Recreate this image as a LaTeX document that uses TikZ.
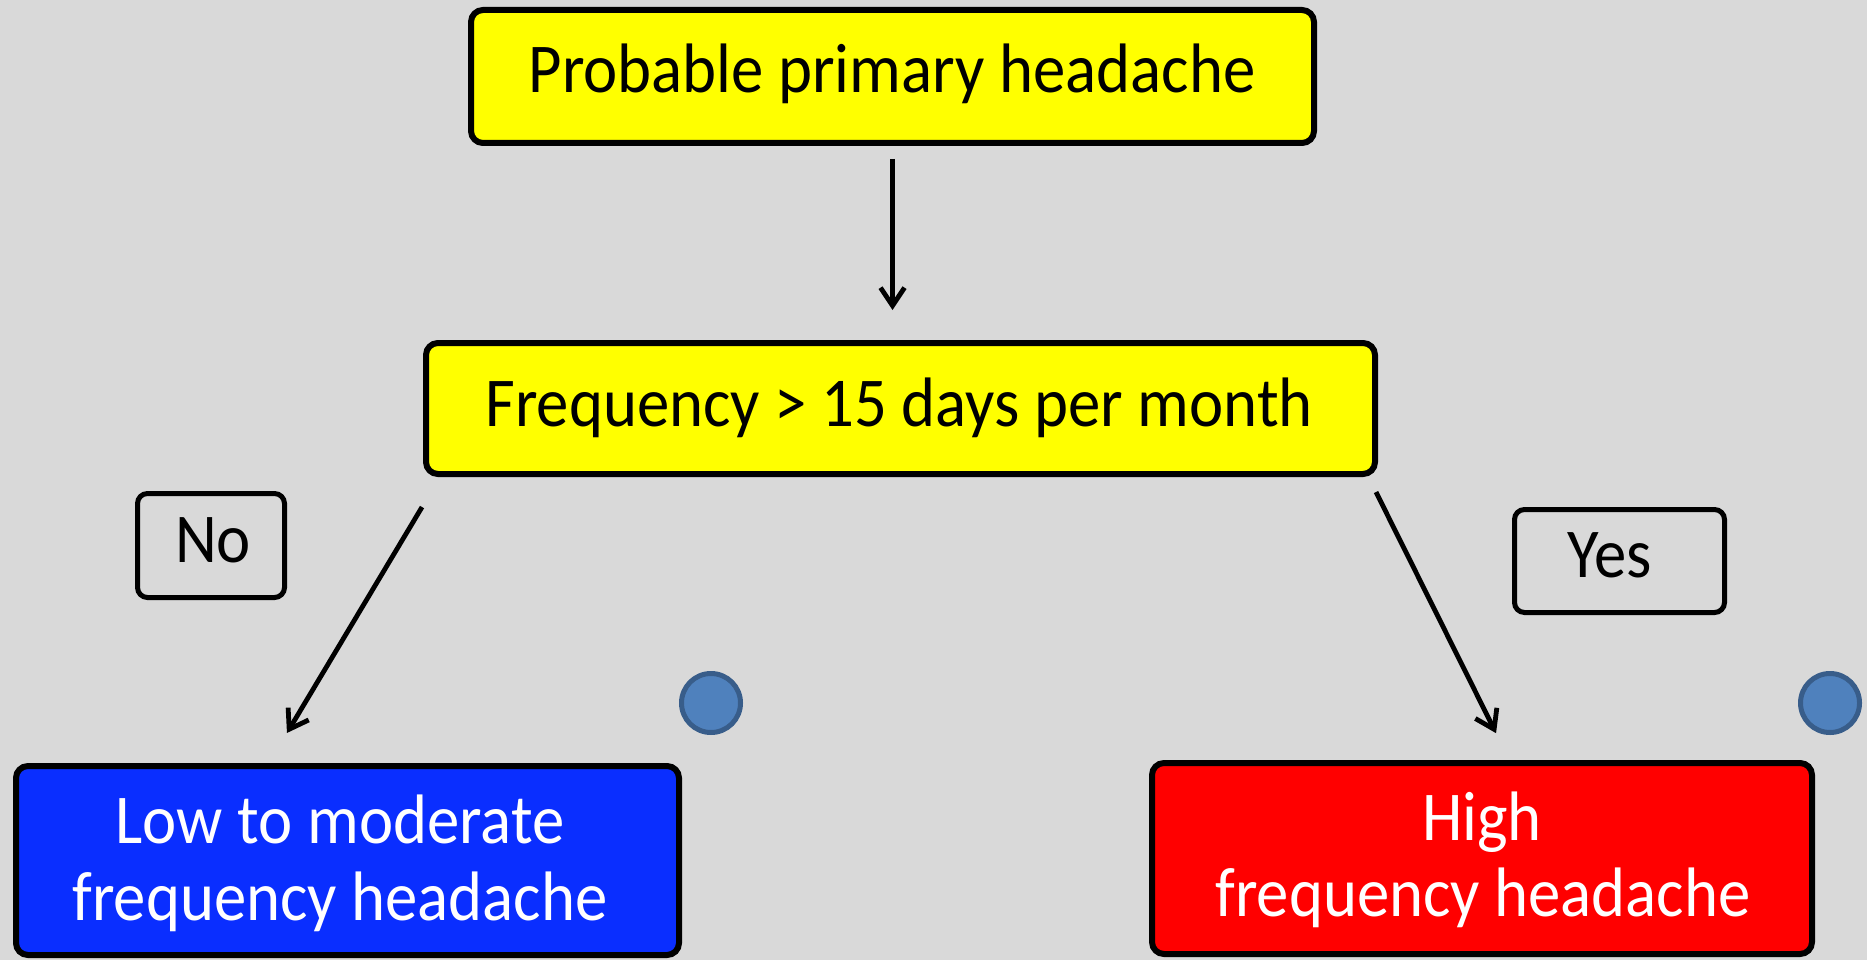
\documentclass[tikz,border=0pt]{standalone}
\usepackage{fontspec}
\setmainfont{Carlito}[FakeStretch=0.925]
\usetikzlibrary{arrows.meta,calc}
\definecolor{canvas}{HTML}{D9D9D9}
\definecolor{boxyellow}{HTML}{FFFF00}
\definecolor{boxblue}{HTML}{0A2EFF}
\definecolor{boxred}{HTML}{FF0000}
\definecolor{dotfill}{HTML}{4F81BD}
\definecolor{dotedge}{HTML}{385D8A}

\begin{document}
\begin{tikzpicture}[x=1pt,y=-1pt,
  stepbox/.style={draw=black, line width=6pt, rounded corners=12pt, inner sep=0pt},
  tagbox/.style={draw=black, line width=5pt, rounded corners=10pt, inner sep=0pt},
  caption/.style={anchor=base, inner sep=0pt, font=\fontsize{70}{77}\selectfont},
  arr/.style={line width=4.8pt, -{Straight Barb[length=18pt,width=24pt,line width=4.8pt]}},
  dot/.style={circle, fill=dotfill, draw=dotedge, line width=5pt, minimum size=59pt, inner sep=0pt}]

% canvas
\fill[canvas] (0,0) rectangle (1867,960);
\useasboundingbox (0,0) rectangle (1867,960);

% boxes
\node[stepbox, fill=boxyellow, minimum width=843pt, minimum height=133pt] (top) at (892.5,76.5) {};
\node[stepbox, fill=boxyellow, minimum width=949pt, minimum height=131pt] (mid) at (900.5,408.5) {};
\node[tagbox, minimum width=147pt, minimum height=104pt] (no) at (211,545.5) {};
\node[tagbox, minimum width=210pt, minimum height=103pt] (yes) at (1619.5,561) {};
\node[stepbox, fill=boxblue, minimum width=663pt, minimum height=189pt] (low) at (347.5,860.5) {};
\node[stepbox, fill=boxred, minimum width=660pt, minimum height=191pt] (high) at (1482,858.5) {};

% markers
\node[dot] (dotL) at (711,703) {};
\node[dot] (dotR) at (1830,703) {};

% texts
\node[caption] (topText) at (892,93) {Probable primary headache};
\node[caption] (midText) at (899,426) {Frequency > 15 days per month};
\node[caption] (noText) at (213,562) {No};
\node[caption] (yesText) at (1610,577) {Yes};
\node[caption, text=white] (lowA) at (340,843) {Low to moderate};
\node[caption, text=white] (lowB) at (340,920) {frequency headache};
\node[caption, text=white] (highA) at (1482,840) {High};
\node[caption, text=white] (highB) at (1483,916) {frequency headache};

% connectors
\draw[arr, shorten <=13pt, shorten >=30pt] (top.south) -- (top.south |- mid.north);
\coordinate (noFrom) at ($(mid.south west)+(17,0)$);
\coordinate (noTo) at ($(low.north west)+(256,0)$);
\draw[arr, shorten <=35pt, shorten >=35pt] (noFrom) -- (noTo);
\coordinate (yesFrom) at ($(mid.south east)+(-9.5,0)$);
\coordinate (yesTo) at ($(high.north west)+(360.4,0)$);
\draw[arr, shorten <=16.8pt, shorten >=30pt] (yesFrom) -- (yesTo);
\end{tikzpicture}
\end{document}
